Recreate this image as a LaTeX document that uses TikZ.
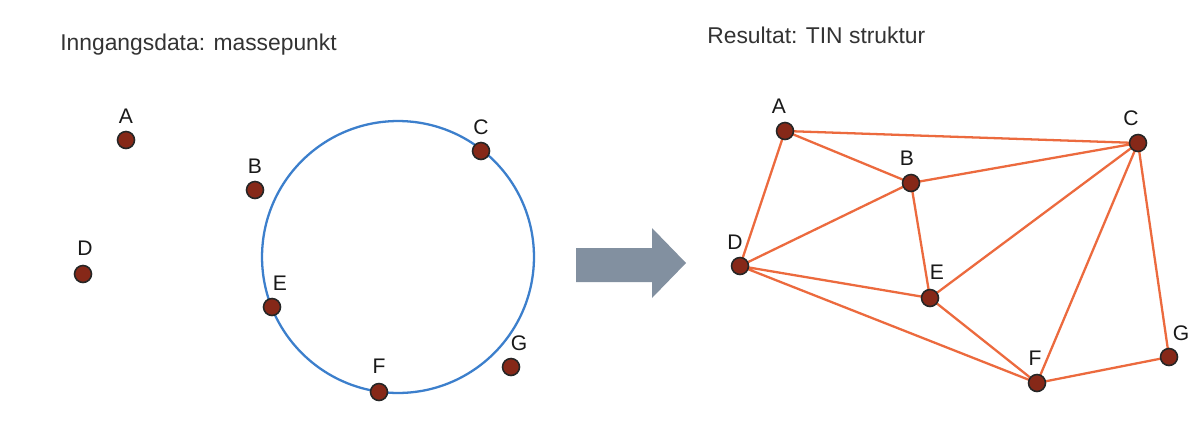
\documentclass[tikz,border=0pt]{standalone}
\usepackage{fontspec}
\setmainfont{Liberation Sans}
\begin{document}
\begin{tikzpicture}[x=0.02cm,y=-0.02cm,
  pt/.style={circle,draw=black!85,line width=0.9pt,fill=ptred,minimum size=0.34cm,inner sep=0pt},
  lab/.style={font=\fontsize{12}{14}\selectfont,text=black!90,inner sep=0pt},
  title/.style={font=\fontsize{13}{15}\selectfont,text=black!80,anchor=west,inner sep=0pt},
  edge/.style={draw=edgeor,line width=1.3pt}]
\definecolor{ptred}{HTML}{862818}
\definecolor{edgeor}{HTML}{EC6A3E}
\definecolor{circblue}{HTML}{3C7FCC}
\definecolor{arrgray}{HTML}{8290A0}
\useasboundingbox[fill=white] (0,0) rectangle (1201,423);
\node[title] (t1) at (60,45) {Inngangsdata: massepunkt};
\node[title] (t2) at (707,35) {Resultat: TIN struktur};
% left circle
\node[circle,draw=circblue,line width=1.3pt,minimum size=5.44cm,inner sep=0pt] (circ) at (398,257) {};
% left points
\node[pt] (lA) at (126,140) {}; \node[lab] at (126,116) {A};
\node[pt] (lB) at (255,190) {}; \node[lab] at (255,166) {B};
\node[pt] (lC) at (481,151) {}; \node[lab] at (481,127) {C};
\node[pt] (lD) at (83,274) {};  \node[lab] at (85,248) {D};
\node[pt] (lE) at (272,307) {}; \node[lab] at (280,283) {E};
\node[pt] (lF) at (379,392) {}; \node[lab] at (379,366) {F};
\node[pt] (lG) at (511,367) {}; \node[lab] at (519,343) {G};
% arrow
\fill[arrgray] (576,248) -- (652,248) -- (652,228) -- (686,263) -- (652,298) -- (652,282) -- (576,282) -- cycle;
% right points
\coordinate (rA) at (785,131);
\coordinate (rB) at (911,183);
\coordinate (rC) at (1138,143);
\coordinate (rD) at (740,266);
\coordinate (rE) at (930,298);
\coordinate (rF) at (1037,383);
\coordinate (rG) at (1169,357);
\draw[edge] (rA) -- (rC) (rA) -- (rB) (rA) -- (rD) (rB) -- (rC) (rB) -- (rD) (rB) -- (rE)
  (rC) -- (rE) (rC) -- (rF) (rC) -- (rG) (rD) -- (rE) (rD) -- (rF) (rE) -- (rF) (rF) -- (rG);
\node[pt] (pA) at (rA) {}; \node[lab] at (779,106) {A};
\node[pt] (pB) at (rB) {}; \node[lab] at (907,158) {B};
\node[pt] (pC) at (rC) {}; \node[lab] at (1131,118) {C};
\node[pt] (pD) at (rD) {}; \node[lab] at (735,242) {D};
\node[pt] (pE) at (rE) {}; \node[lab] at (937,272) {E};
\node[pt] (pF) at (rF) {}; \node[lab] at (1035,358) {F};
\node[pt] (pG) at (rG) {}; \node[lab] at (1181,333) {G};
\end{tikzpicture}
\end{document}
